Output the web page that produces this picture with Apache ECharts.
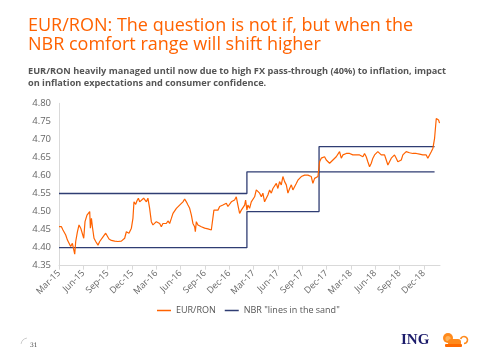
<!DOCTYPE html>
<html>
<head>
<meta charset="utf-8">
<script src="https://cdn.jsdelivr.net/npm/echarts@6/dist/echarts.min.js"></script>
<style>
html,body{margin:0;padding:0;background:#fff;}
#chart{width:480px;height:360px;}
</style>
</head>
<body>
<div id="chart"></div>
<script>
// Tick labels (quarterly, months since Mar-2015 at 0,3,6,...)
const tickLabels = ['Mar-15','Jun-15','Sep-15','Dec-15','Mar-16','Jun-16','Sep-16','Dec-16',
  'Mar-17','Jun-17','Sep-17','Dec-17','Mar-18','Jun-18','Sep-18','Dec-18'];

// EUR/RON: x = months since 1 Mar 2015, y = rate
const eurRonX = [0,0.30,0.49,0.70,0.83,1.04,1.23,1.44,1.65,1.81,1.94,2.06,2.27,2.47,2.68,2.89,3.05,3.21,3.45,3.63,3.79,3.87,4.00,4.12,4.32,4.53,4.81,5.02,5.23,5.43,5.76,5.92,6.17,6.46,6.87,7.27,7.69,8.10,8.31,8.63,8.93,9.12,9.25,9.46,9.62,9.79,9.95,10.16,10.44,10.78,10.97,11.18,11.39,11.59,11.80,12.01,
  12.21,12.42,12.62,12.82,13.03,13.24,13.44,13.65,13.86,14.06,14.27,14.48,14.67,14.88,15.09,15.29,15.50,15.71,15.91,16.12,16.33,16.52,16.73,16.82,16.94,17.14,17.35,17.56,17.76,17.97,18.18,18.37,18.58,18.79,18.99,19.11,19.32,19.61,19.82,20.02,20.22,20.43,20.64,20.84,21.05,21.26,21.46,21.66,21.87,22.07,22.28,22.49,22.69,22.90,23.02,23.18,
  23.30,23.51,23.72,23.92,24.13,24.34,24.54,24.75,24.96,25.15,25.36,25.57,25.77,25.98,26.19,26.39,26.60,26.81,27.00,27.21,27.42,27.62,27.83,28.04,28.24,28.45,28.66,28.85,29.06,29.27,29.47,29.68,29.89,30.09,30.30,30.50,30.70,30.91,31.12,31.32,31.53,31.74,31.94,
  32.15,32.35,32.55,32.76,32.97,33.17,33.38,33.59,33.79,34.00,34.20,34.40,34.61,34.82,35.02,35.23,35.44,35.64,35.85,36.05,36.25,36.46,36.67,36.87,37.08,37.29,37.49,37.69,37.90,38.10,38.31,38.52,38.72,38.93,39.13,39.33,39.54,39.75,39.95,40.16,40.37,40.57,40.78,40.99,41.18,41.39,41.60,41.80,42.01,42.22,42.42,42.63,42.83,43.24,43.65,44.07,44.48,44.88,45.09,45.30,45.50,45.71,45.92,46.12,46.33,46.54,46.66,46.82,46.94];
const eurRonY = [4.458,4.458,4.449,4.454,4.435,4.421,4.417,4.403,4.412,4.417,4.382,4.417,4.444,4.463,4.454,4.458,4.426,4.472,4.490,4.495,4.500,4.454,4.481,4.458,4.426,4.417,4.407,4.417,4.417,4.430,4.440,4.435,4.424,4.420,4.418,4.417,4.418,4.426,4.444,4.440,4.454,4.481,4.527,4.520,4.530,4.537,4.527,4.530,4.537,4.527,4.537,4.509,4.472,4.463,4.467,4.472,
  4.474,4.467,4.458,4.467,4.472,4.467,4.474,4.467,4.481,4.495,4.500,4.509,4.514,4.518,4.523,4.527,4.535,4.527,4.518,4.509,4.490,4.467,4.458,4.444,4.472,4.463,4.467,4.458,4.463,4.454,4.454,4.452,4.449,4.449,4.454,4.504,4.509,4.504,4.514,4.509,4.518,4.514,4.523,4.514,4.509,4.527,4.527,4.532,4.541,4.518,4.495,4.504,4.500,4.518,4.532,4.504,
  4.518,4.509,4.527,4.532,4.541,4.560,4.555,4.551,4.541,4.551,4.527,4.523,4.546,4.560,4.551,4.564,4.569,4.578,4.564,4.583,4.574,4.597,4.583,4.574,4.551,4.564,4.574,4.560,4.569,4.578,4.587,4.589,4.597,4.601,4.601,4.599,4.601,4.598,4.597,4.578,4.592,4.597,4.597,
  4.638,4.648,4.643,4.652,4.643,4.638,4.634,4.629,4.643,4.648,4.652,4.657,4.666,4.648,4.657,4.652,4.661,4.657,4.661,4.659,4.657,4.661,4.657,4.661,4.657,4.661,4.652,4.661,4.652,4.638,4.624,4.634,4.648,4.657,4.661,4.666,4.661,4.657,4.661,4.657,4.643,4.629,4.624,4.648,4.643,4.657,4.648,4.638,4.634,4.643,4.657,4.661,4.666,4.663,4.661,4.661,4.659,4.657,4.652,4.657,4.648,4.657,4.666,4.675,4.703,4.758,4.763,4.754,4.745];

// NBR "lines in the sand" (step boundaries)
const nbrUpperX = [0, 23.18, 23.18, 32.08, 32.08, 46.33];
const nbrUpperY = [4.55, 4.55, 4.61, 4.61, 4.68, 4.68];
const nbrLowerX = [0, 23.18, 23.18, 32.08, 32.08, 46.33];
const nbrLowerY = [4.40, 4.40, 4.50, 4.50, 4.61, 4.61];

const zip = (xs, ys) => xs.map((x, i) => [x, ys[i]]);
const ORANGE = '#FF6200';
const NAVY = '#2F3D73';
const NBR = 'NBR "lines in the sand"';

const chart = echarts.init(document.getElementById('chart'), null, {renderer: 'canvas'});
chart.setOption({
  animation: false,
  backgroundColor: '#ffffff',
  title: [{
    text: 'EUR/RON: The question is not if, but when the\nNBR comfort range will shift higher',
    left: 28, top: 16, padding: 0,
    textStyle: {color: ORANGE, fontFamily: 'Open Sans', fontSize: 18, fontWeight: 'normal', lineHeight: 19}
  }, {
    text: 'EUR/RON heavily managed until now due to high FX pass-through (40%) to inflation, impact\non inflation expectations and consumer confidence.',
    left: 28, top: 66, padding: 0,
    textStyle: {color: '#555555', fontFamily: 'Open Sans', fontSize: 9.2, fontWeight: 'bold', lineHeight: 11.7}
  }],
  legend: {
    data: ['EUR/RON', NBR],
    left: 157, top: 306, padding: 0,
    icon: 'rect', itemWidth: 14, itemHeight: 1.5, itemGap: 9,
    textStyle: {color: '#555555', fontFamily: 'Open Sans', fontSize: 9}
  },
  grid: {left: 59, right: 40, top: 103.3, bottom: 94.3, containLabel: false, outerBoundsMode: 'none'},
  xAxis: {
    type: 'value', min: 0, max: 47, interval: 3,
    axisLine: {show: true, lineStyle: {color: '#d9d9d9'}},
    axisTick: {show: true, length: 4, lineStyle: {color: '#d9d9d9'}, customValues: tickLabels.map((_, i) => i * 3)},
    splitLine: {show: false},
    axisLabel: {
      customValues: tickLabels.map((_, i) => i * 3),
      rotate: 45, color: '#666666', fontFamily: 'Open Sans', fontSize: 9, margin: 6,
      formatter: v => tickLabels[Math.round(v / 3)] || ''
    }
  },
  yAxis: {
    type: 'value', min: 4.35, max: 4.80, interval: 0.05,
    axisLine: {show: true, lineStyle: {color: '#d9d9d9'}},
    axisTick: {show: false},
    splitLine: {show: false},
    axisLabel: {color: '#666666', fontFamily: 'Open Sans', fontSize: 9.5, margin: 8, formatter: v => v.toFixed(2)}
  },
  series: [{
    name: 'EUR/RON', type: 'line', data: zip(eurRonX, eurRonY),
    showSymbol: false, symbol: 'none', lineStyle: {color: ORANGE, width: 1.2}, itemStyle: {color: ORANGE}, z: 3
  }, {
    name: NBR, type: 'line', data: zip(nbrUpperX, nbrUpperY),
    showSymbol: false, symbol: 'none', lineStyle: {color: NAVY, width: 1.3}, itemStyle: {color: NAVY}, z: 2
  }, {
    name: NBR, type: 'line', data: zip(nbrLowerX, nbrLowerY),
    showSymbol: false, symbol: 'none', lineStyle: {color: NAVY, width: 1.3}, itemStyle: {color: NAVY}, z: 2
  }],
  graphic: [
    {type: 'arc', shape: {cx: 28, cy: 345, r: 7, startAngle: Math.PI * 1.05, endAngle: Math.PI * 1.45}, style: {stroke: '#cccccc', lineWidth: 1, fill: null}},
    {type: 'text', left: 30, top: 342, style: {text: '31', fill: '#444444', font: '6px "DejaVu Serif"'}},
    {type: 'text', left: 401, top: 333, style: {text: 'ING', fill: '#1C1C6B', font: 'bold 15px "Liberation Serif"'}},
    {type: 'group', left: 443, top: 333, children: [
      {type: 'circle', shape: {cx: 6, cy: 6, r: 5}, style: {fill: '#FF8A1C'}},
      {type: 'circle', shape: {cx: 6, cy: 6.5, r: 2.6}, style: {fill: '#FFB25A'}},
      {type: 'rect', shape: {x: 6, y: 7, width: 13, height: 7, r: 3}, style: {fill: '#FF8A1C'}},
      {type: 'rect', shape: {x: 3, y: 12, width: 17, height: 3, r: 1}, style: {fill: '#FF6A00'}},
      {type: 'arc', shape: {cx: 22, cy: 8, r: 3.5, startAngle: -Math.PI * 0.9, endAngle: Math.PI * 0.5}, style: {stroke: '#FF8A1C', lineWidth: 1.6, fill: null}}
    ]}
  ]
});
</script>
</body>
</html>
